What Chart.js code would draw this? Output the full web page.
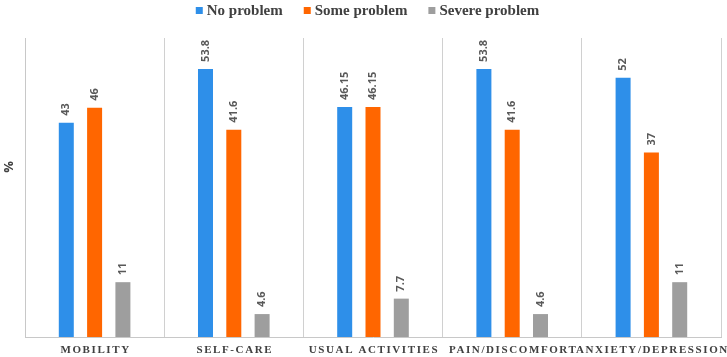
<!DOCTYPE html>
<html>
<head>
<meta charset="utf-8">
<script src="https://cdn.jsdelivr.net/npm/chart.js@4.4.1/dist/chart.umd.min.js"></script>
<style>
  html, body { margin: 0; padding: 0; background: #ffffff; }
  #wrap { width: 727px; height: 357px; position: relative; }
</style>
</head>
<body>
<div id="wrap"><canvas id="myChart"></canvas></div>
<script>
// data
const categories = ["MOBILITY", "SELF-CARE", "USUAL ACTIVITIES", "PAIN/DISCOMFORT", "ANXIETY/DEPRESSION"];
const noProblem = [43, 53.8, 46.15, 53.8, 52];
const someProblem = [46, 41.6, 46.15, 41.6, 37];
const severeProblem = [11, 4.6, 7.7, 4.6, 11];
const seriesNames = ["No problem", "Some problem", "Severe problem"];
const seriesColors = ["#2E8FE9", "#FF6600", "#9E9E9E"];

// value labels drawn rotated above each bar
const barLabels = {
  id: "barLabels",
  afterDatasetsDraw(chart) {
    const ctx = chart.ctx;
    ctx.save();
    ctx.font = "bold 11px 'Open Sans'";
    ctx.fillStyle = "#595959";
    ctx.textAlign = "left";
    ctx.textBaseline = "middle";
    chart.data.datasets.forEach((ds, i) => {
      chart.getDatasetMeta(i).data.forEach((bar, j) => {
        ctx.save();
        ctx.translate(bar.x, bar.y - 7);
        ctx.rotate(-Math.PI / 2);
        ctx.fillText(String(ds.data[j]), 0, 0);
        ctx.restore();
      });
    });
    ctx.restore();
  },
};

// legend, category names with letter spacing, and the % axis title
const axisText = {
  id: "axisText",
  afterDraw(chart) {
    const ctx = chart.ctx;
    const x = chart.scales.x;
    ctx.save();

    // legend
    ctx.font = "bold 15px 'Liberation Serif'";
    ctx.textBaseline = "middle";
    ctx.textAlign = "left";
    const widths = seriesNames.map((n) => ctx.measureText(n).width);
    const total = widths.reduce((a, w) => a + w + 11, 0) + 21 * (seriesNames.length - 1);
    let lx = chart.width / 2 + 4 - total / 2;
    seriesNames.forEach((n, i) => {
      ctx.fillStyle = seriesColors[i];
      ctx.fillRect(lx, 7, 7, 7);
      ctx.fillStyle = "#404040";
      ctx.fillText(n, lx + 11, 11);
      lx += 11 + widths[i] + 21;
    });

    // category labels
    ctx.font = "bold 11px 'Liberation Serif'";
    ctx.fillStyle = "#404040";
    ctx.textAlign = "center";
    ctx.letterSpacing = "1.6px";
    categories.forEach((c, i) => {
      ctx.fillText(c, x.getPixelForValue(i) + 1, 350);
    });
    ctx.letterSpacing = "0px";

    // y title
    ctx.font = "bold 13px 'Open Sans'";
    ctx.translate(9, 167);
    ctx.rotate(-Math.PI / 2);
    ctx.fillText("%", 0, 0);
    ctx.restore();
  },
};

const datasets = [noProblem, someProblem, severeProblem].map((d, i) => ({
  label: seriesNames[i],
  data: d,
  backgroundColor: seriesColors[i],
  categoryPercentage: 0.61,
  barPercentage: 0.53,
}));

const config = {
  type: "bar",
  data: { labels: categories, datasets: datasets },
  options: {
    responsive: true,
    maintainAspectRatio: false,
    animation: false,
    layout: { padding: { left: 17, right: 6, bottom: 20, top: 38 } },
    plugins: {
      tooltip: { enabled: false },
      legend: { display: false },
    },
    scales: {
      x: {
        grid: { display: true, offset: true, color: "#d0d0d0", drawTicks: false },
        border: { display: true, color: "#c8c8c8" },
        ticks: { display: false },
      },
      y: {
        min: 0,
        max: 60,
        grid: { display: false },
        border: { display: true, color: "#c8c8c8" },
        ticks: { display: false },
      },
    },
  },
  plugins: [barLabels, axisText],
};

const myChart = new Chart(document.getElementById("myChart"), config);
</script>
</body>
</html>
